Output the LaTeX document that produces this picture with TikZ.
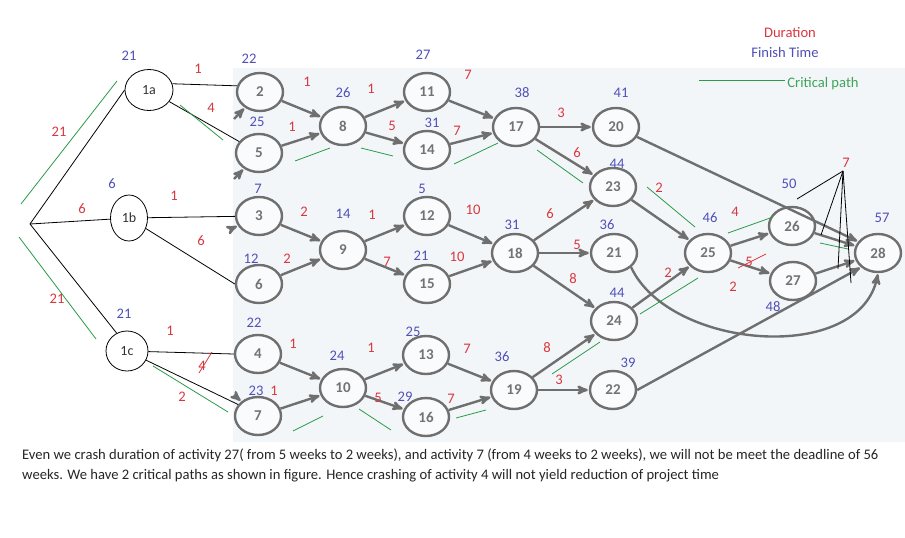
\documentclass[tikz,border=0pt]{standalone}
\usepackage{fontspec}
\setmainfont{Carlito}
\usepackage{xcolor}
\usepackage{tikz}
\usetikzlibrary{arrows, shapes.geometric}

\definecolor{durred}{HTML}{D8383F}
\definecolor{finblue}{HTML}{5050B8}
\definecolor{critgreen}{HTML}{2A9A48}
\definecolor{scangray}{HTML}{6F6F6F}
\definecolor{scanbg}{HTML}{F3F6F9}

\tikzset{
	ev/.style={ellipse, draw=scangray, line width=2.4pt, fill=white!60!scanbg,
		minimum width=46pt, minimum height=38pt, inner sep=0pt,
		text=gray!90!black, font=\fontsize{15}{15}\selectfont\bfseries},
	start/.style={ellipse, draw=black, line width=0.8pt, inner sep=0pt,
		text=black!80, font=\fontsize{14}{14}\selectfont},
	act/.style={->, >=stealth', draw=scangray, line width=2.4pt, shorten >=1pt},
	plain/.style={draw=black, line width=0.8pt},
	crit/.style={draw=critgreen, line width=0.8pt},
	strike/.style={draw=durred, line width=0.8pt},
	dur/.style={text=durred, inner sep=0pt, font=\fontsize{14.6}{14.6}\selectfont},
	fin/.style={text=finblue, inner sep=0pt, font=\fontsize{14.6}{14.6}\selectfont}
}

\begin{document}
\begin{tikzpicture}[x=1pt, y=-1pt]
	\fill[white] (0,0) rectangle (905,538);
	\useasboundingbox (0,0) rectangle (905,538);
	\fill[scanbg] (233,68) rectangle (905,442);

	% scanned network
	\node[ev] (n2) at (260,92) {2};
	\node[ev] (n5) at (259,153) {5};
	\node[ev] (n3) at (259,216) {3};
	\node[ev] (n6) at (259,284) {6};
	\node[ev] (n4) at (258,354) {4};
	\node[ev] (n7) at (258,416) {7};
	\node[ev] (n8) at (343,126) {8};
	\node[ev] (n9) at (343,250) {9};
	\node[ev] (n10) at (343,388) {10};
	\node[ev] (n11) at (427,92) {11};
	\node[ev] (n14) at (427,150) {14};
	\node[ev] (n12) at (427,216) {12};
	\node[ev] (n15) at (427,284) {15};
	\node[ev] (n13) at (426,355) {13};
	\node[ev] (n16) at (426,417) {16};
	\node[ev] (n17) at (516,127) {17};
	\node[ev] (n18) at (515,253) {18};
	\node[ev] (n19) at (514,390) {19};
	\node[ev] (n20) at (616,127) {20};
	\node[ev] (n23) at (613,187) {23};
	\node[ev] (n21) at (614,253) {21};
	\node[ev] (n24) at (614,321) {24};
	\node[ev] (n22) at (613,390) {22};
	\node[ev] (n25) at (708,253) {25};
	\node[ev] (n26) at (792,226) {26};
	\node[ev] (n27) at (793,281) {27};
	\node[ev] (n28) at (878,253) {28};

	\coordinate (e2) at (234,119);
	\coordinate (e5) at (234,179);
	\coordinate (e3) at (233,228);
	\coordinate (e7) at (234,395);
	\draw[act] (e2) -- (n2);
	\draw[act] (e5) -- (n5);
	\draw[act] (e3) -- (n3);
	\draw[act] (e7) -- (n7);

	\draw[act] (n2) -- (n8);
	\draw[act] (n5) -- (n8);
	\draw[act] (n8) -- (n11);
	\draw[act] (n8) -- (n14);
	\draw[act] (n11) -- (n17);
	\draw[act] (n14) -- (n17);
	\draw[act] (n3) -- (n9);
	\draw[act] (n6) -- (n9);
	\draw[act] (n9) -- (n12);
	\draw[act] (n9) -- (n15);
	\draw[act] (n12) -- (n18);
	\draw[act] (n15) -- (n18);
	\draw[act] (n4) -- (n10);
	\draw[act] (n7) -- (n10);
	\draw[act] (n10) -- (n13);
	\draw[act] (n10) -- (n16);
	\draw[act] (n13) -- (n19);
	\draw[act] (n16) -- (n19);
	\draw[act] (n17) -- (n20);
	\draw[act] (n17) -- (n23);
	\draw[act] (n18) -- (n23);
	\draw[act] (n18) -- (n21);
	\draw[act] (n18) -- (n24);
	\draw[act] (n19) -- (n24);
	\draw[act] (n19) -- (n22);
	\draw[act] (n23) -- (n25);
	\draw[act] (n24) -- (n25);
	\draw[act] (n25) -- (n26);
	\draw[act] (n25) -- (n27);
	\draw[act] (n26) -- (n28);
	\draw[act] (n27) -- (n28);
	\draw[act] (n20) -- (n28.150);
	\draw[act] (n22.east) -- (n28.220);
	\draw[act] (n21.south east) .. controls (670,350) and (860,365) .. (n28.south);

	% added start events
	\coordinate (o) at (30,224);
	\node[start, minimum width=48pt, minimum height=41pt] (s1a) at (149,90) {1a};
	\node[start, minimum width=37pt, minimum height=46pt] (s1b) at (129,218) {1b};
	\node[start, minimum width=42pt, minimum height=40pt] (s1c) at (127,351) {1c};
	\draw[plain] (o) -- (s1a.west);
	\draw[plain] (o) -- (s1b);
	\draw[plain] (o) -- (s1c.120);
	\draw[plain] (s1a.15) -- (n2.165);
	\draw[plain] (s1a) -- (n5.150);
	\draw[plain] (s1b) -- (n3);
	\draw[plain] (s1b) -- (n6.west);
	\draw[plain] (s1c) -- (n4.west);
	\draw[plain] (s1c) -- (n7.150);

	% critical path marks
	\draw[crit] (117,81) -- (21,204);
	\draw[crit] (19,237) -- (96,339);
	\draw[crit] (180,105) -- (223,140);
	\draw[crit] (153,366) -- (228,412);
	\draw[crit] (295,161) -- (330,148);
	\draw[crit] (361,148) -- (393,156);
	\draw[crit] (454,164) -- (498,143);
	\draw[crit] (537,150) -- (583,183);
	\draw[crit] (647,187) -- (695,227);
	\draw[crit] (728,233) -- (773,217);
	\draw[crit] (820,243) -- (848,249);
	\draw[crit] (640,314) -- (698,278);
	\draw[crit] (552,374) -- (600,342);
	\draw[crit] (456,418) -- (486,410);
	\draw[crit] (293,431) -- (323,416);
	\draw[crit] (359,409) -- (391,430);

	% durations
	\node[dur] (d1) at (198,69) {1};
	\node[dur] (d2) at (211,108) {4};
	\node[dur] (d3) at (59,132) {21};
	\node[dur] (d4) at (307,82) {1};
	\node[dur] (d5) at (371,89) {1};
	\node[dur] (d6) at (468,75) {7};
	\node[dur] (d7) at (292,127) {1};
	\node[dur] (d8) at (392,126) {5};
	\node[dur] (d9) at (457,131) {7};
	\node[dur] (d10) at (561,113) {3};
	\node[dur] (d11) at (577,153) {6};
	\node[dur] (d12) at (82,209) {6};
	\node[dur] (d13) at (174,196) {1};
	\node[dur] (d14) at (201,241) {6};
	\node[dur] (d15) at (304,212) {2};
	\node[dur] (d16) at (372,215) {1};
	\node[dur] (d17) at (473,210) {10};
	\node[dur] (d18) at (550,214) {6};
	\node[dur] (d19) at (659,188) {2};
	\node[dur] (d20) at (735,212) {4};
	\node[dur] (d21) at (846,163) {7};
	\node[dur] (d22) at (287,259) {2};
	\node[dur] (d23) at (387,262) {7};
	\node[dur] (d24) at (457,257) {10};
	\node[dur] (d25) at (577,245) {5};
	\node[dur] (d26) at (573,279) {8};
	\node[dur] (d27) at (668,273) {2};
	\node[dur] (d28) at (749,262) {5};
	\node[dur] (d29) at (733,287) {2};
	\node[dur] (d30) at (57,299) {21};
	\node[dur] (d31) at (170,331) {1};
	\node[dur] (d32) at (202,366) {4};
	\node[dur] (d33) at (182,397) {2};
	\node[dur] (d34) at (293,344) {1};
	\node[dur] (d35) at (371,348) {1};
	\node[dur] (d36) at (467,349) {7};
	\node[dur] (d37) at (547,348) {8};
	\node[dur] (d38) at (559,380) {3};
	\node[dur] (d39) at (274,391) {1};
	\node[dur] (d40) at (378,398) {5};
	\node[dur] (d41) at (451,399) {7};
	\draw[strike] (199,373) -- (212,352);
	\draw[strike] (738,268) -- (766,254);

	% finish times
	\node[fin] (f1) at (129,56) {21};
	\node[fin] (f2) at (249,59) {22};
	\node[fin] (f3) at (423,55) {27};
	\node[fin] (f4) at (343,93) {26};
	\node[fin] (f5) at (257,122) {25};
	\node[fin] (f6) at (432,123) {31};
	\node[fin] (f7) at (522,93) {38};
	\node[fin] (f8) at (621,93) {41};
	\node[fin] (f9) at (112,184) {6};
	\node[fin] (f10) at (258,189) {7};
	\node[fin] (f11) at (343,214) {14};
	\node[fin] (f12) at (422,189) {5};
	\node[fin] (f13) at (512,225) {31};
	\node[fin] (f14) at (607,225) {36};
	\node[fin] (f15) at (617,164) {44};
	\node[fin] (f16) at (789,184) {50};
	\node[fin] (f17) at (710,218) {46};
	\node[fin] (f18) at (882,218) {57};
	\node[fin] (f19) at (251,259) {12};
	\node[fin] (f20) at (421,256) {21};
	\node[fin] (f21) at (773,307) {48};
	\node[fin] (f22) at (617,293) {44};
	\node[fin] (f23) at (124,314) {21};
	\node[fin] (f24) at (254,323) {22};
	\node[fin] (f25) at (413,332) {25};
	\node[fin] (f26) at (337,356) {24};
	\node[fin] (f27) at (502,357) {36};
	\node[fin] (f28) at (628,363) {39};
	\node[fin] (f29) at (256,391) {23};
	\node[fin] (f30) at (405,397) {29};

	% lines from the 7 on the last activities
	\coordinate (apex) at (843,171);
	\draw[plain] (apex) -- (797,199);
	\draw[plain] (apex) -- (821,235);
	\draw[plain] (apex) -- (838,269);
	\draw[plain] (apex) -- (851,283);

	% legend
	\node[dur] (legdur) at (790,33) {Duration};
	\node[fin] (legfin) at (785,52) {Finish Time};
	\coordinate (legc) at (699,80);
	\node[text=critgreen!90!white, inner sep=0pt, font=\fontsize{14.6}{14.6}\selectfont] (legcrit) at (823,84) {Critical path};
	\draw[crit] (legc) -- (785,80);

	% note
	\node[anchor=north west, align=left, inner sep=0pt, text=black!85,
		font=\fontsize{14.6}{20}\selectfont] (note) at (22,449)
		{Even we crash duration of activity 27( from 5 weeks to 2 weeks), and activity 7 (from 4 weeks to 2 weeks), we will not be meet the deadline of 56\\
		weeks. We have 2 critical paths as shown in figure. Hence crashing of activity 4 will not yield reduction of project time};
\end{tikzpicture}
\end{document}
